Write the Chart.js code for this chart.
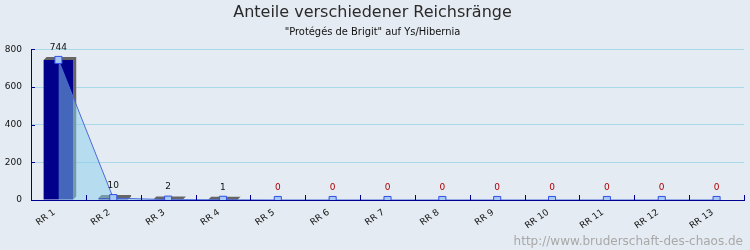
<!DOCTYPE html>
<html>
<head>
<meta charset="utf-8">
<script src="https://cdn.jsdelivr.net/npm/chart.js@4.4.1/dist/chart.umd.min.js"></script>
<style>
    html, body { margin: 0; padding: 0; background: #e5ebf2; }
    #wrap { width: 750px; height: 250px; position: relative; }
</style>
</head>
<body>
<div id="wrap"><canvas id="chart"></canvas></div>
<script>
// Daten
const categories = ['RR 1', 'RR 2', 'RR 3', 'RR 4', 'RR 5', 'RR 6', 'RR 7', 'RR 8', 'RR 9', 'RR 10', 'RR 11', 'RR 12', 'RR 13'];
const values = [744, 10, 2, 1, 0, 0, 0, 0, 0, 0, 0, 0, 0];
const yTicks = [0, 200, 400, 600, 800];
const titleText = 'Anteile verschiedener Reichsränge';
const subtitleText = '"Protégés de Brigit" auf Ys/Hibernia';
const footerText = 'http://www.bruderschaft-des-chaos.de';

const AXIS = '#000090';
const FONT = 'DejaVu Sans';

// Hintergrund
const bgPlugin = {
    id: 'bg',
    beforeDraw(chart) {
        const ctx = chart.ctx;
        ctx.save();
        ctx.fillStyle = '#e5ebf2';
        ctx.fillRect(0, 0, chart.width, chart.height);
        ctx.restore();
    }
};

// 3D-Schatten hinter den Balken
const shadowPlugin = {
    id: 'shadow3d',
    beforeDatasetsDraw(chart) {
        const meta = chart.getDatasetMeta(0);
        const ctx = chart.ctx;
        const d = 3;
        ctx.save();
        ctx.fillStyle = '#666666';
        meta.data.forEach((bar, i) => {
            if (!values[i]) return;
            const p = bar.getProps(['x', 'y', 'base', 'width'], true);
            const x1 = p.x - p.width / 2;
            const x2 = p.x + p.width / 2;
            ctx.beginPath();
            ctx.moveTo(x1, p.y);
            ctx.lineTo(x1 + d, p.y - d);
            ctx.lineTo(x2 + d, p.y - d);
            ctx.lineTo(x2 + d, p.base - d);
            ctx.lineTo(x2, p.base);
            ctx.lineTo(x2, p.y);
            ctx.closePath();
            ctx.fill();
        });
        ctx.restore();
    }
};

// Wertebeschriftung + Achsenstriche + Fußzeile
const labelPlugin = {
    id: 'labels',
    afterDatasetsDraw(chart) {
        const ctx = chart.ctx;
        const meta = chart.getDatasetMeta(1);
        ctx.save();
        ctx.font = '9px ' + FONT;
        ctx.textAlign = 'center';
        ctx.textBaseline = 'bottom';
        meta.data.forEach((pt, i) => {
            ctx.fillStyle = values[i] === 0 ? '#b00000' : '#111111';
            ctx.fillText(String(values[i]), pt.x, pt.y - 8);
        });
        ctx.restore();
    },
    afterDraw(chart) {
        const ctx = chart.ctx;
        const area = chart.chartArea;
        const xs = chart.scales.x;
        const ys = chart.scales.y;
        ctx.save();
        ctx.strokeStyle = AXIS;
        ctx.lineWidth = 1;
        ctx.beginPath();
        const half = (xs.getPixelForValue(1) - xs.getPixelForValue(0)) / 2;
        for (let i = 0; i < categories.length; i++) {
            const bx = Math.round(xs.getPixelForValue(i) + half) + 0.5;
            ctx.moveTo(bx, area.bottom);
            ctx.lineTo(bx, area.bottom - 5);
        }
        yTicks.forEach(v => {
            const by = Math.round(ys.getPixelForValue(v)) + 0.5;
            ctx.moveTo(area.left, by);
            ctx.lineTo(area.left + 4, by);
        });
        ctx.stroke();

        ctx.font = '12px ' + FONT;
        ctx.fillStyle = '#a8a8a8';
        ctx.textAlign = 'right';
        ctx.textBaseline = 'alphabetic';
        ctx.fillText(footerText, 743, 245);
        ctx.restore();
    }
};

new Chart(document.getElementById('chart'), {
    data: {
        labels: categories,
        datasets: [{
            type: 'bar',
            data: values,
            backgroundColor: '#00008b',
            borderWidth: 0,
            barPercentage: 0.54,
            categoryPercentage: 1,
            order: 2
        }, {
            type: 'line',
            data: values,
            borderColor: '#4c6ad8',
            borderWidth: 1,
            backgroundColor: 'rgba(135, 206, 235, 0.5)',
            fill: 'origin',
            tension: 0,
            pointStyle: 'rect',
            pointRadius: 5,
            pointBackgroundColor: '#a6c8f2',
            pointBorderColor: '#3050e8',
            pointBorderWidth: 1,
            order: 1
        }]
    },
    options: {
        responsive: true,
        maintainAspectRatio: false,
        animation: false,
        layout: { padding: { top: 0, right: 5, left: 0, bottom: 0 } },
        plugins: {
            legend: { display: false },
            tooltip: { enabled: false },
            title: {
                display: true,
                text: titleText,
                color: '#2a2a2a',
                font: { family: FONT, size: 16, weight: 'normal' },
                padding: { top: 3, bottom: 0 }
            },
            subtitle: {
                display: true,
                text: subtitleText,
                color: '#111111',
                font: { family: "'DejaVu Sans Condensed', 'Liberation Sans', sans-serif", size: 11 },
                padding: { top: 3, bottom: 11 }
            }
        },
        scales: {
            x: {
                offset: true,
                grid: { display: false },
                border: { display: true, color: AXIS, width: 1 },
                ticks: {
                    color: '#111111',
                    font: { family: FONT, size: 9 },
                    minRotation: 35,
                    maxRotation: 35,
                    padding: -1,
                    labelOffset: -4
                },
                afterFit(scale) { scale.height = 50; }
            },
            y: {
                min: yTicks[0],
                max: yTicks[yTicks.length - 1],
                grid: { color: '#a9d9e8', drawTicks: false },
                border: { display: true, color: AXIS, width: 1 },
                ticks: {
                    stepSize: 200,
                    color: '#111111',
                    font: { family: FONT, size: 9 },
                    padding: 9
                },
                afterFit(scale) { scale.width = 31; }
            }
        }
    },
    plugins: [bgPlugin, shadowPlugin, labelPlugin]
});
</script>
</body>
</html>
